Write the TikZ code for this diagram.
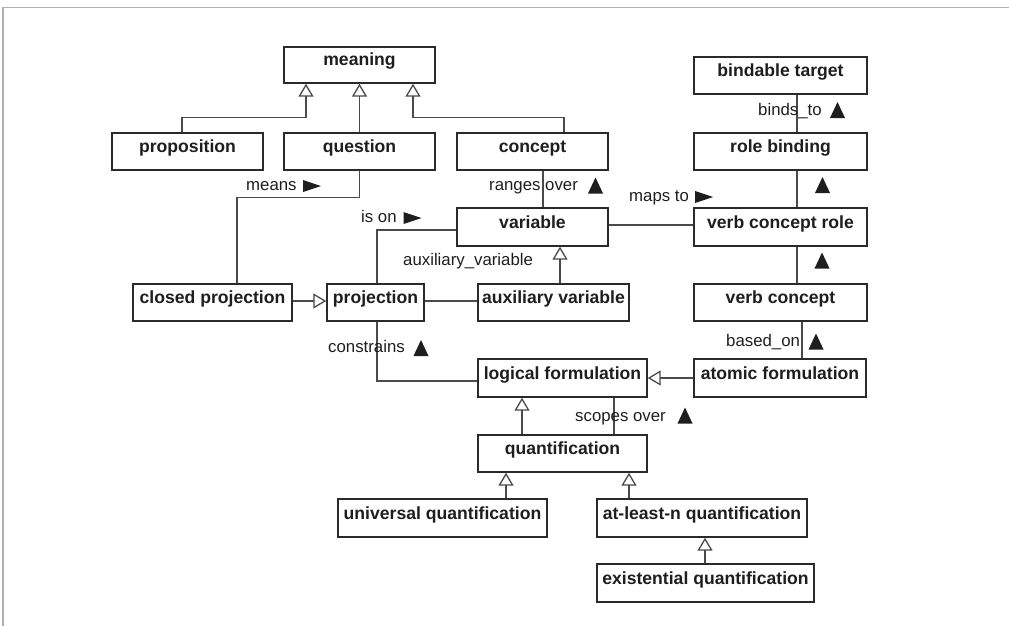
\documentclass[tikz,border=0pt]{standalone}
\usepackage{fontspec}
\setmainfont{Liberation Sans}
\usetikzlibrary{arrows.meta}
\definecolor{ink}{HTML}{1E1E1E}
\definecolor{boxline}{HTML}{2A2A2A}
\definecolor{wire}{HTML}{4A4A4A}
\definecolor{framegray}{HTML}{B0B0B0}
\begin{document}
\begin{tikzpicture}[x=1pt,y=-1pt,
  box/.style={draw=boxline, line width=1.4pt, fill=white, inner sep=0pt,
    minimum height=37pt, text height=10pt, text depth=8pt,
    font=\fontsize{17.6pt}{20pt}\selectfont\bfseries, text=ink},
  lbl/.style={inner sep=0pt, anchor=base west,
    font=\fontsize{16.8pt}{20pt}\selectfont, text=ink},
  assoc/.style={draw=wire, line width=1.3pt},
  gen/.style={assoc, -{Triangle[open, width=15pt, length=13pt]}},
  uptri/.pic={\fill[ink] (-7.5,8) -- (7.5,8) -- (0,-8) -- cycle;},
  rttri/.pic={\fill[ink] (-9,-6) -- (9,0) -- (-9,6) -- cycle;},
]
\useasboundingbox (0,0) rectangle (1009,626);

% window frame
\draw[framegray, line width=1.5pt] (3,626) -- (3,7.5) -- (1009,7.5);

% classes
\node[box, minimum width=151pt, minimum height=36pt] (meaning) at (359.5,65) {meaning};
\node[box, minimum width=173pt] (bindable) at (780.5,75.5) {bindable target};
\node[box, minimum width=151pt] (proposition) at (187.5,151.5) {proposition};
\node[box, minimum width=151pt] (question) at (359.5,151.5) {question};
\node[box, minimum width=151pt] (concept) at (532.5,151.5) {concept};
\node[box, minimum width=173pt] (rolebinding) at (780.5,151.5) {role binding};
\node[box, minimum width=151pt, minimum height=38pt] (variable) at (532.5,227) {variable};
\node[box, minimum width=173pt, minimum height=38pt] (vcrole) at (780.5,227) {verb concept role};
\node[box, minimum width=159pt] (closedproj) at (212.5,302.5) {closed projection};
\node[box, minimum width=97pt] (projection) at (375.5,302.5) {projection};
\node[box, minimum width=151pt] (auxvar) at (553.5,302.5) {auxiliary variable};
\node[box, minimum width=173pt] (verbconcept) at (780.5,302.5) {verb concept};
\node[box, minimum width=169pt, minimum height=38pt] (logical) at (562.5,378) {logical formulation};
\node[box, minimum width=172pt, minimum height=38pt] (atomic) at (780,378) {atomic formulation};
\node[box, minimum width=169pt] (quant) at (562.5,453.5) {quantification};
\node[box, minimum width=209pt, minimum height=38pt] (universal) at (442.5,518) {universal quantification};
\node[box, minimum width=210pt, minimum height=38pt] (atleast) at (702,518) {at-least-n quantification};
\node[box, minimum width=217pt, minimum height=38pt] (existential) at (705.5,583) {existential quantification};

% generalizations
\draw[gen] ([xshift=-5.5pt]proposition.north) -- ++(0,-15) -| ([xshift=-53.5pt]meaning.south);
\draw[gen] (question) -- (meaning);
\draw[gen] ([xshift=31.5pt]concept.north) -- ++(0,-15) -| ([xshift=53.5pt]meaning.south);
\draw[gen] ([xshift=6.5pt]auxvar.north) -- ([xshift=6.5pt]auxvar.north |- variable.south);
\draw[gen] ([yshift=1.5pt]closedproj.east) -- ([yshift=1.5pt]projection.west);
\draw[gen] (atomic.west) -- (logical.east);
\draw[gen] ([xshift=-40.5pt]quant.north) -- ([xshift=-40.5pt]logical.south);
\draw[gen] ([xshift=63.5pt]universal.north) -- ([xshift=63.5pt]universal.north |- quant.south);
\draw[gen] ([xshift=-73pt]atleast.north) -- ([xshift=-73pt]atleast.north |- quant.south);
\draw[gen] ([xshift=-0.5pt]existential.north) -- ([xshift=-0.5pt]existential.north |- atleast.south);

% associations
\draw[assoc] (question.south) -- ++(0,27) -| ([xshift=24.5pt]closedproj.north);
\draw[assoc] ([xshift=10.5pt]concept.south) -- ([xshift=10.5pt]concept.south |- variable.north);
\draw[assoc] ([yshift=-3pt]variable.west) -| ([xshift=1.5pt]projection.north);
\draw[assoc] ([yshift=2pt]variable.east) -- ([yshift=2pt]vcrole.west);
\draw[assoc] ([yshift=1.5pt]projection.east) -- ([yshift=1.5pt]auxvar.west);
\draw[assoc] ([xshift=16.5pt]bindable.south) -- ([xshift=16.5pt]rolebinding.north);
\draw[assoc] ([xshift=16.5pt]rolebinding.south) -- ([xshift=16.5pt]vcrole.north);
\draw[assoc] ([xshift=16.5pt]vcrole.south) -- ([xshift=16.5pt]verbconcept.north);
\draw[assoc] ([xshift=21.5pt]verbconcept.south) -- ([xshift=21.5pt]verbconcept.south |- atomic.north);
\draw[assoc] ([xshift=1.5pt]projection.south) |- ([yshift=-3pt]logical.west);
\draw[assoc] ([xshift=51.5pt]logical.south) -- ([xshift=51.5pt]quant.north);

% role names
\node[lbl] (lmeans) at (246,190.5) {means};
\node[lbl] (lison) at (361,222.5) {is on};
\node[lbl] (lranges) at (489,190.5) {ranges over};
\node[lbl] (lmaps) at (629,201.5) {maps to};
\node[lbl] (lbinds) at (758,115.5) {binds\_to};
\node[lbl] (lauxv) at (403,265) {auxiliary\_variable};
\node[lbl] (lconstr) at (328,352.5) {constrains};
\node[lbl] (lbased) at (726,346.5) {based\_on};
\node[lbl] (lscopes) at (575,421.5) {scopes over};

% reading direction marks
\pic at (312,186) {rttri};
\pic at (412.5,218) {rttri};
\pic at (704,197) {rttri};
\pic at (595.5,185.5) {uptri};
\pic at (837.5,110) {uptri};
\pic at (822.5,185) {uptri};
\pic at (822,260.5) {uptri};
\pic at (816,341.5) {uptri};
\pic at (421,348) {uptri};
\pic at (685,415.5) {uptri};
\end{tikzpicture}
\end{document}
